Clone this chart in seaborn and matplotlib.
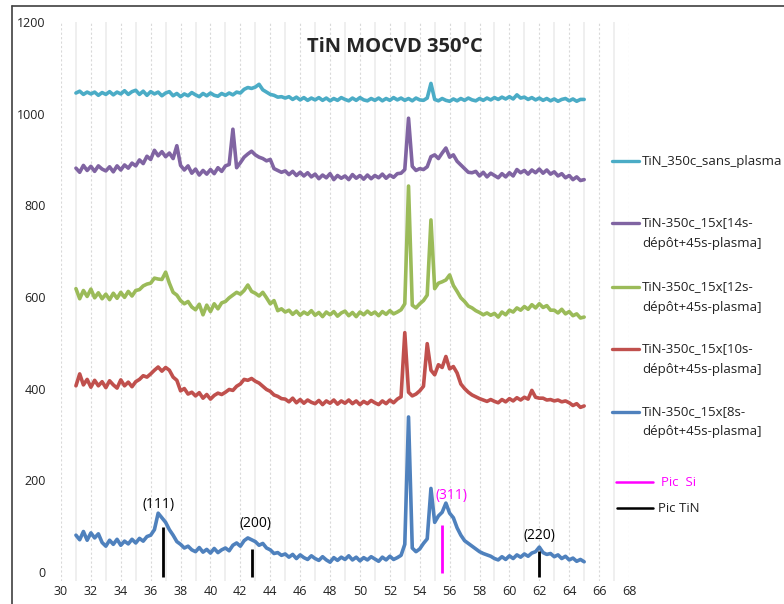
import matplotlib
matplotlib.use("Agg")
import matplotlib.pyplot as plt
from matplotlib.lines import Line2D
import numpy as np
import seaborn as sns

# 2-theta sampling grid (deg), 31 -> 65 every 0.25
two_theta = np.arange(31.0, 65.001, 0.25)

sans_plasma = [
    1045, 1049, 1042, 1047, 1043, 1047, 1040, 1046,
    1042, 1048, 1041, 1047, 1043, 1050, 1042, 1048,
    1051, 1042, 1049, 1040, 1048, 1043, 1047, 1039,
    1045, 1048, 1039, 1044, 1037, 1043, 1039, 1046,
    1041, 1037, 1044, 1039, 1045, 1040, 1038, 1044,
    1040, 1045, 1041, 1047, 1045, 1053, 1057, 1055,
    1058, 1064, 1052, 1047, 1042, 1040, 1036, 1037,
    1034, 1037, 1031, 1036, 1030, 1035, 1029, 1034,
    1030, 1035, 1029, 1034, 1028, 1033, 1029, 1035,
    1031, 1028, 1034, 1029, 1035, 1030, 1028, 1033,
    1029, 1034, 1028, 1033, 1029, 1035, 1030, 1034,
    1029, 1033, 1028, 1034, 1030, 1029, 1034, 1066,
    1031, 1028, 1033, 1029, 1027, 1032, 1028, 1033,
    1029, 1034, 1030, 1028, 1033, 1029, 1034, 1030,
    1035, 1031, 1036, 1032, 1037, 1032, 1041, 1034,
    1036, 1031, 1035, 1030, 1034, 1029, 1033, 1028,
    1032, 1027, 1031, 1033, 1028, 1032, 1027, 1031,
    1031,
]

dep_14s = [
    881, 872, 887, 876, 885, 874, 886, 879,
    875, 884, 873, 886, 877, 888, 881, 892,
    886, 899, 891, 907, 900, 920, 908, 917,
    906, 914, 902, 930, 887, 877, 886, 870,
    879, 866, 876, 868, 878, 869, 882, 874,
    886, 889, 966, 882, 893, 905, 912, 918,
    910, 905, 902, 897, 900, 880, 876, 872,
    875, 867, 874, 865, 872, 864, 871, 862,
    868, 858, 866, 860, 869, 856, 865, 859,
    864, 856, 867, 859, 865, 857, 866, 858,
    865, 860, 868, 859, 866, 861, 869, 870,
    878, 990, 885, 876, 880, 878, 884, 906,
    910, 902, 914, 925, 905, 910, 896, 888,
    880, 872, 871, 874, 864, 872, 862, 870,
    865, 860, 869, 862, 871, 864, 878, 871,
    876, 868, 877, 871, 879, 870, 877, 868,
    873, 864, 869, 860, 865, 856, 862, 854,
    856,
]

dep_12s = [
    618, 596, 614, 601, 617, 598, 609, 596,
    606, 594, 608, 597, 610, 599, 612, 602,
    614, 616, 624, 628, 630, 641, 639, 638,
    654, 630, 610, 604, 592, 585, 590, 578,
    572, 584, 561, 582, 568, 585, 574, 587,
    590, 598, 604, 610, 606, 614, 626, 612,
    608, 602, 610, 598, 585, 592, 570, 574,
    567, 571, 562, 569, 560, 567, 562, 570,
    560, 566, 557, 567, 561, 568, 558, 565,
    569, 559, 566, 557, 567, 561, 569, 562,
    567, 559, 568, 562, 570, 563, 567, 572,
    585, 842, 582, 576, 585, 592, 604, 768,
    618, 630, 633, 637, 648, 625, 612, 598,
    590, 580, 576, 570, 566, 561, 565, 560,
    564, 556, 567, 561, 571, 567, 576, 571,
    579, 573, 583, 576, 585, 577, 581, 571,
    571, 565, 573, 563, 568, 559, 563, 554,
    556,
]

dep_10s = [
    406, 432, 408, 420, 403, 418, 406, 415,
    402, 417, 408, 401, 419, 406, 414, 404,
    415, 420, 428, 425, 432, 440, 447, 438,
    446, 440, 425, 418, 395, 400, 388, 392,
    384, 391, 379, 387, 377, 385, 390, 387,
    392, 398, 396, 405, 410, 420, 418, 422,
    416, 412, 405, 398, 394, 386, 383, 378,
    377, 371, 379, 369, 376, 368, 375, 370,
    367, 374, 365, 373, 368, 375, 366, 373,
    368, 375, 367, 373, 365, 372, 367, 374,
    369, 365, 373, 367, 375, 369, 377, 382,
    522, 392, 384, 388, 395, 405, 498, 440,
    430, 452, 446, 470, 443, 448, 434, 410,
    400, 392, 386, 382, 378, 375, 372, 376,
    372, 369, 376, 371, 378, 373, 380, 375,
    381, 377, 396, 381, 379, 379, 375, 376,
    373, 375, 371, 373, 369, 363, 367, 359,
    362,
]

dep_8s = [
    80, 70, 88, 69, 85, 74, 83, 64,
    56, 69, 60, 71, 58, 67, 61, 71,
    63, 73, 67, 77, 80, 92, 128, 118,
    108, 92, 80, 66, 60, 52, 56, 48,
    44, 53, 43, 49, 41, 51, 42, 48,
    52, 46, 58, 63, 56, 68, 74, 70,
    66, 58, 62, 52, 48, 40, 42, 36,
    39, 32, 38, 29, 37, 31, 27, 35,
    29, 25, 33, 26, 21, 31, 25, 32,
    27, 35, 26, 32, 24, 31, 26, 33,
    28, 23, 32, 26, 34, 27, 31, 36,
    60, 338, 52, 44, 50, 62, 72, 182,
    108, 122, 130, 150, 128, 118, 96, 80,
    68, 62, 56, 50, 44, 40, 37, 34,
    29, 26, 33, 27, 35, 29, 37, 32,
    39, 34, 41, 44, 54, 42, 38, 40,
    33, 37, 29, 34, 26, 30, 23, 27,
    22,
]

series_labels = [
    ["TiN_350c_sans_plasma"],
    ["TiN-350c_15x[14s-", "dépôt+45s-plasma]"],
    ["TiN-350c_15x[12s-", "dépôt+45s-plasma]"],
    ["TiN-350c_15x[10s-", "dépôt+45s-plasma]"],
    ["TiN-350c_15x[8s-", "dépôt+45s-plasma]"],
]
series_colors = ["#4bacc6", "#8064a2", "#9bbb59", "#c0504d", "#4f81bd"]
series_values = [sans_plasma, dep_14s, dep_12s, dep_10s, dep_8s]

# reference peak markers
tin_pos = [36.8, 42.8, 62.0]
tin_height = [97, 50, 45]
tin_hkl = ["(111)", "(200)", "(220)"]
tin_label_xy = [(36.5, 148), (43.0, 105), (62.0, 79)]
si_pos = [55.5]
si_height = [103]
si_hkl = ["(311)"]
si_label_xy = [(56.1, 166)]

sns.set_style("white")
plt.rcParams["font.family"] = ["Open Sans", "DejaVu Sans"]

W, H = 784, 604
fig = plt.figure(figsize=(W / 100, H / 100), dpi=100)
ax = fig.add_axes([61 / W, 1 - 581 / H, (629 - 61) / W, (581 - 22) / H])


def fxy(px, py):
    return px / W, 1 - py / H


for vals, col in zip(series_values, series_colors):
    sns.lineplot(x=two_theta, y=vals, color=col, lw=2.6, ax=ax, estimator=None)

ax.vlines(tin_pos, -12, tin_height, colors="black", lw=2)
ax.vlines(si_pos, -2, si_height, colors="#ff00ff", lw=2)
for lab, (x, y) in zip(tin_hkl, tin_label_xy):
    ax.text(x, y, lab, ha="center", va="center", fontsize=10, color="black")
for lab, (x, y) in zip(si_hkl, si_label_xy):
    ax.text(x, y, lab, ha="center", va="center", fontsize=10, color="#ff00ff")

ax.set_xlim(30, 68)
ax.set_ylim(-20, 1200)
ax.set_xticks(np.arange(30, 69, 2))
ax.set_xticks(np.arange(31, 68, 2), minor=True)
ax.set_yticks(np.arange(0, 1201, 200))
ax.grid(which="major", axis="x", color="#d9d9d9", ls=(0, (2, 2)), lw=0.8)
ax.grid(which="minor", axis="x", color="#ebebeb", ls="-", lw=1.1)
ax.grid(axis="y", visible=False)
ax.tick_params(axis="both", which="both", length=0, labelsize=9, colors="#222222")
ax.tick_params(axis="y", pad=11)
ax.tick_params(axis="x", pad=3)
for s in ax.spines.values():
    s.set_visible(False)
ax.set_xlabel("")
ax.set_ylabel("")

fig.text(*fxy(395, 47), "TiN MOCVD 350°C", ha="center", va="center",
         fontsize=14.5, fontweight="bold")

# legend drawn by hand (Excel-style layout)
swatch_y = [161, 223, 287, 349, 412]
for labs, col, y in zip(series_labels, series_colors, swatch_y):
    x0, y0 = fxy(612, y)
    x1, _ = fxy(639, y)
    fig.add_artist(Line2D([x0, x1], [y0, y0], color=col, lw=2.4))
    for k, line in enumerate(labs):
        fig.text(*fxy(642, y + k * 20), line, ha="left", va="center",
                 fontsize=9.5, color="#222222")

x0, y0 = fxy(616, 482)
x1, _ = fxy(653, 482)
fig.add_artist(Line2D([x0, x1], [y0, y0], color="#ff00ff", lw=1.8))
fig.text(*fxy(661, 482), "Pic  Si", ha="left", va="center", fontsize=9.5,
         color="#ff00ff")
x0, y0 = fxy(617, 508)
x1, _ = fxy(653, 508)
fig.add_artist(Line2D([x0, x1], [y0, y0], color="black", lw=1.8))
fig.text(*fxy(658, 508), "Pic TiN", ha="left", va="center", fontsize=9.5,
         color="#222222")

# outer chart frame (top and left edges visible)
fl, ft = fxy(12, 6)
fig.add_artist(Line2D([fl, 1.0], [ft, ft], color="#404040", lw=1.2))
fig.add_artist(Line2D([fl, fl], [0.0, ft], color="#404040", lw=1.2))

fig.savefig("out.png", dpi=100)
